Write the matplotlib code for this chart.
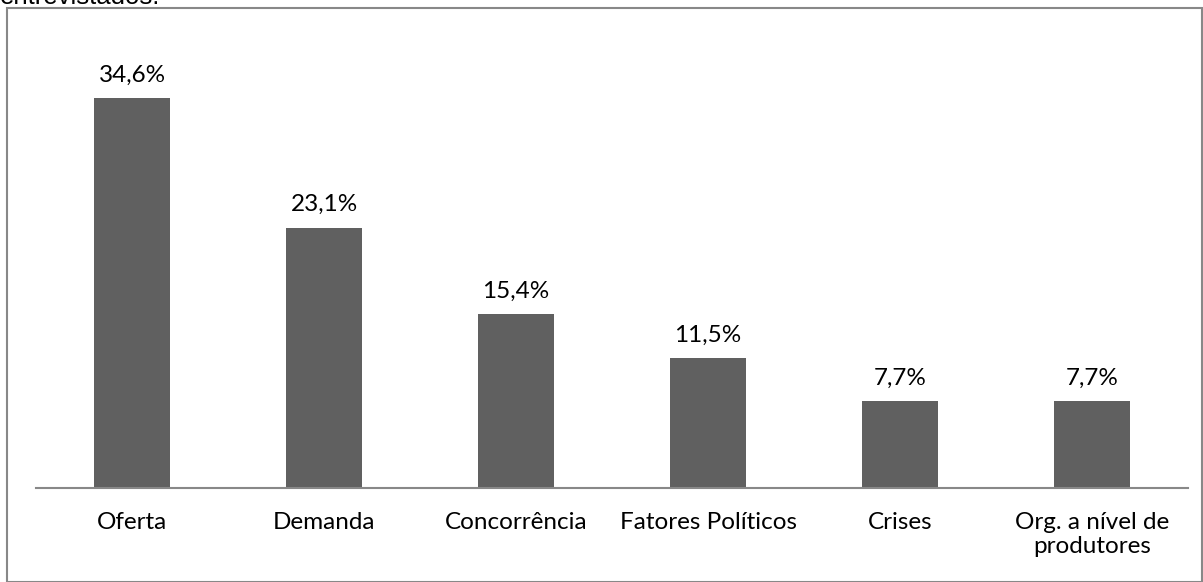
import matplotlib.pyplot as plt
from matplotlib.patches import Rectangle

categories = ["Oferta", "Demanda", "Concorrência", "Fatores Políticos", "Crises",
              "Org. a nível de\nprodutores"]
values = [34.6, 23.1, 15.4, 11.5, 7.7, 7.7]
value_labels = ["34,6%", "23,1%", "15,4%", "11,5%", "7,7%", "7,7%"]

W, H = 1203, 582
fig = plt.figure(figsize=(W / 100, H / 100), dpi=100)

# outer chart border
fig.patches.append(Rectangle((7 / W, 0), (W - 8) / W, (H - 8) / H, transform=fig.transFigure,
                             fill=False, edgecolor="#888888", linewidth=1.5))

# cut-off caption text at the very top (partly outside the picture in the reference)
fig.text(0.0, 1 - 4 / H, "entrevistados.", family="Liberation Sans", fontsize=18.5,
         va="baseline", ha="left", color="black")

ax = fig.add_axes([36 / W, (H - 488) / H, 1152 / W, (488 - 20) / H])
x = range(len(categories))
ax.bar(x, values, width=0.4, color="#606060")
ax.set_xlim(-0.5, len(categories) - 0.5)
ax.set_ylim(0, 468 / 11.27)

for i, (v, lab) in enumerate(zip(values, value_labels)):
    ax.annotate(lab, (i, v), xytext=(0, 12), textcoords="offset points",
                ha="center", va="baseline", family="Lato", fontsize=17.5)

ax.set_xticks(list(x))
ax.set_xticklabels(categories, family="Lato", fontsize=17.5, linespacing=1.2, va="top")
ax.tick_params(axis="x", length=0, pad=17)
ax.set_yticks([])
for s in ["top", "right", "left"]:
    ax.spines[s].set_visible(False)
ax.spines["bottom"].set_color("#888888")
ax.spines["bottom"].set_linewidth(1.5)

fig.savefig("out.png", dpi=100)
